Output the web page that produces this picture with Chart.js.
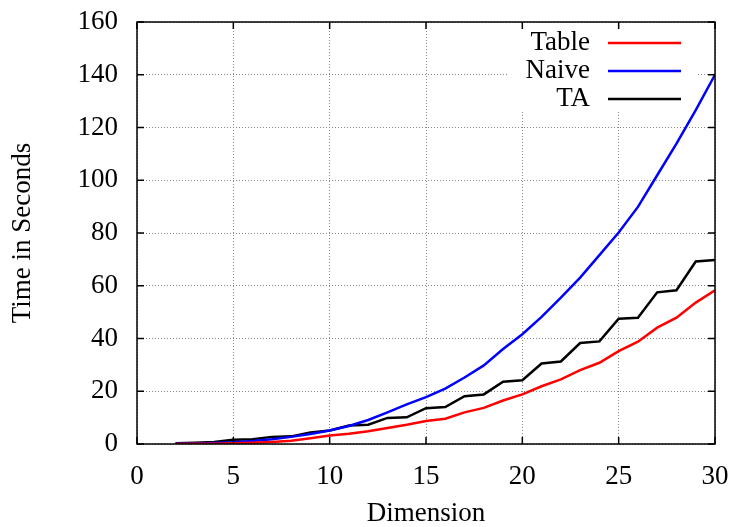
<!DOCTYPE html>
<html>
<head>
<meta charset="utf-8">
<script src="https://cdn.jsdelivr.net/npm/chart.js@4"></script>
<style>
  body { margin: 0; background: #fff; }
</style>
</head>
<body>
<canvas id="chart" width="734" height="527"></canvas>
<script>
const dims = [2, 3, 4, 5, 6, 7, 8, 9, 10, 11, 12, 13, 14, 15, 16, 17, 18, 19, 20, 21, 22, 23, 24, 25, 26, 27, 28, 29, 30];
const table = [0.02, 0.06, 0.14, 0.3, 0.5, 0.8, 1.2, 2.2, 3.2, 3.9, 4.8, 6.1, 7.3, 8.7, 9.6, 12.0, 13.7, 16.5, 18.8, 21.9, 24.5, 28.0, 30.8, 35.2, 38.8, 44.1, 47.9, 53.6, 58.3];
const naive = [0.05, 0.15, 0.35, 0.7, 1.1, 1.8, 2.7, 3.8, 5.1, 6.8, 9.1, 12.0, 15.0, 17.8, 21.0, 25.2, 29.8, 36.0, 41.6, 48.2, 55.5, 63.1, 71.6, 80.2, 89.9, 101.9, 113.9, 126.6, 140.0];
const ta = [0.3, 0.5, 0.8, 1.6, 1.8, 2.7, 2.9, 4.4, 5.1, 7.0, 7.3, 9.9, 10.1, 13.6, 14.0, 18.1, 18.8, 23.6, 24.2, 30.5, 31.3, 38.3, 38.9, 47.5, 47.9, 57.5, 58.3, 69.2, 69.8];

const seriesNames = ["Table", "Naive", "TA"];
const seriesColors = ["#ff0000", "#0000ff", "#000000"];
const xTicks = [0, 5, 10, 15, 20, 25, 30];
const yTicks = [0, 20, 40, 60, 80, 100, 120, 140, 160];

const FONT = "Liberation Serif";
const FSIZE = 27;

const toPoints = (vals) => vals.map((v, i) => ({ x: dims[i], y: v }));

// gnuplot style: white key area, frame, inward ticks, key
const gnuplotStyle = {
  id: "gnuplotStyle",
  beforeDatasetsDraw(chart) {
    const ctx = chart.ctx;
    ctx.save();
    ctx.fillStyle = "#fff";
    ctx.fillRect(508, 23, 190, 89);
    ctx.restore();
  },
  afterDraw(chart) {
    const ctx = chart.ctx;
    const a = chart.chartArea;
    const xs = chart.scales.x;
    const ys = chart.scales.y;
    ctx.save();
    ctx.strokeStyle = "#000";
    ctx.lineWidth = 1.5;
    ctx.strokeRect(a.left, a.top, a.right - a.left, a.bottom - a.top);
    ctx.beginPath();
    xTicks.forEach((t) => {
      const px = xs.getPixelForValue(t);
      ctx.moveTo(px, a.bottom);
      ctx.lineTo(px, a.bottom - 7);
      ctx.moveTo(px, a.top);
      ctx.lineTo(px, a.top + 7);
    });
    yTicks.forEach((t) => {
      const py = ys.getPixelForValue(t);
      ctx.moveTo(a.left, py);
      ctx.lineTo(a.left + 7, py);
      ctx.moveTo(a.right, py);
      ctx.lineTo(a.right - 7, py);
    });
    ctx.stroke();

    // key
    ctx.font = FSIZE + "px '" + FONT + "'";
    ctx.textAlign = "right";
    ctx.textBaseline = "middle";
    seriesNames.forEach((name, i) => {
      const y = 43 + i * 28;
      ctx.fillStyle = "#000";
      ctx.fillText(name, 590, y);
      ctx.strokeStyle = seriesColors[i];
      ctx.lineWidth = 2.5;
      ctx.beginPath();
      ctx.moveTo(608, y);
      ctx.lineTo(681, y);
      ctx.stroke();
    });
    ctx.restore();
  },
};

const datasets = [table, naive, ta].map((vals, i) => ({
  label: seriesNames[i],
  data: toPoints(vals),
  borderColor: seriesColors[i],
  backgroundColor: seriesColors[i],
  borderWidth: 2.5,
  pointRadius: 0,
  tension: 0,
  fill: false,
}));

const chart = new Chart(document.getElementById("chart"), {
  type: "line",
  data: { datasets: datasets },
  options: {
    responsive: false,
    animation: false,
    devicePixelRatio: 1,
    layout: { padding: { top: 22, right: 19, left: 0, bottom: 0 } },
    plugins: { legend: { display: false }, tooltip: { enabled: false } },
    scales: {
      x: {
        type: "linear",
        min: 0,
        max: 30,
        afterFit: (scale) => {
          scale.height = 83;
          scale.paddingLeft = 0;
          scale.paddingRight = 0;
        },
        afterBuildTicks: (scale) => { scale.ticks = xTicks.map((v) => ({ value: v })); },
        grid: { color: "#888", lineWidth: 1, drawTicks: false },
        border: { display: false, dash: [1, 2] },
        ticks: { color: "#000", padding: 17, maxRotation: 0, font: { family: FONT, size: FSIZE } },
        title: {
          display: true,
          text: "Dimension",
          color: "#000",
          font: { family: FONT, size: FSIZE },
          padding: { top: 0, bottom: -3 },
        },
      },
      y: {
        type: "linear",
        min: 0,
        max: 160,
        afterFit: (scale) => {
          scale.width = 137;
          scale.paddingTop = 0;
          scale.paddingBottom = 0;
        },
        afterBuildTicks: (scale) => { scale.ticks = yTicks.map((v) => ({ value: v })); },
        grid: { color: "#888", lineWidth: 1, drawTicks: false },
        border: { display: false, dash: [1, 2] },
        ticks: { color: "#000", padding: 19, font: { family: FONT, size: FSIZE } },
        title: {
          display: true,
          text: "Time in Seconds",
          color: "#000",
          font: { family: FONT, size: FSIZE },
          padding: { top: 7, bottom: 0 },
        },
      },
    },
  },
  plugins: [gnuplotStyle],
});
</script>
</body>
</html>
